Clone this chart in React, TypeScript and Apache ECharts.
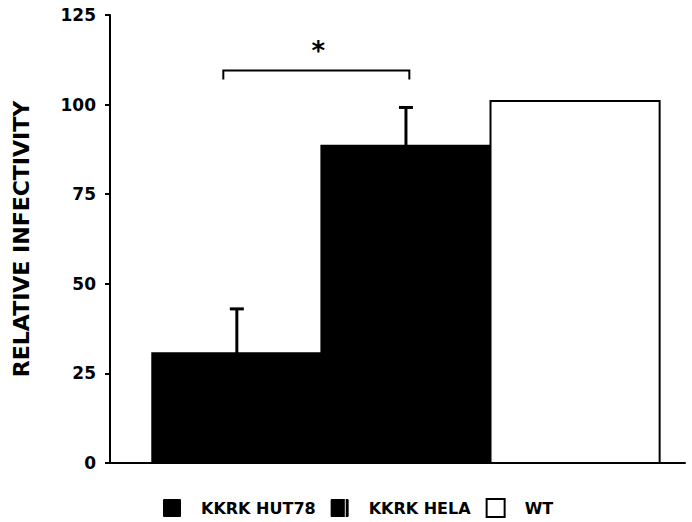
import React, { useEffect, useRef } from 'react';
import * as echarts from 'echarts';

const categories = ['KKRK HUT78', 'KKRK HELA', 'WT'];
const values = [30.6, 88.5, 101];
const errors = [12.4, 10.7, 0];
const yMin = 0;
const yMax = 125;
const yInterval = 25;
const yTitle = 'RELATIVE INFECTIVITY';
// significance bracket (in x-axis units) and its height
const bracketX = [0.67, 1.77];
const bracketY = 109.5;
const bracketDrop = 2.5;
const bracketLabel = '*';
const asteriskY = 115;

const FONT = '"DejaVu Sans", Verdana, sans-serif';
const BAR_OFFSET = 0.75; // center of first bar in axis units
const fills = ['#000000', '#000000', '#ffffff'];
const icons = [
  'path://M1,0H15Q16,0 16,1V15Q16,16 15,16H1Q0,16 0,15V1Q0,0 1,0Z',
  'path://M1,0H12.6V16H1Q0,16 0,15V1Q0,0 1,0Z M13.4,0H15Q16,0 16,1V15Q16,16 15,16H13.4Z',
  'rect',
];

export default function App() {
  const ref = useRef<HTMLDivElement>(null);
  useEffect(() => {
    document.body.style.margin = '0';
    if (!ref.current) return;
    const chart = echarts.init(ref.current, undefined, { renderer: 'svg' });

    const barSeries = categories.map((name, i) => ({
      name,
      type: 'custom',
      data: [[BAR_OFFSET + i, values[i]]],
      itemStyle: { color: fills[i], borderColor: '#000', borderWidth: 2 },
      renderItem: (params: any, api: any) => {
        const x = api.value(0);
        const y = api.value(1);
        const p1 = api.coord([x - 0.5, y]);
        const p2 = api.coord([x + 0.5, 0]);
        return {
          type: 'rect',
          shape: { x: p1[0], y: p1[1], width: p2[0] - p1[0], height: p2[1] - p1[1] },
          style: { fill: fills[i], stroke: '#000', lineWidth: 2 },
        };
      },
    }));

    const errorSeries = {
      type: 'custom',
      name: 'err',
      z: 3,
      data: values.map((v, i) => [BAR_OFFSET + i, v, errors[i]]).filter((d) => d[2] > 0),
      renderItem: (params: any, api: any) => {
        const x = api.value(0);
        const y = api.value(1);
        const e = api.value(2);
        const base = api.coord([x, y]);
        const top = api.coord([x, y + e]);
        return {
          type: 'group',
          children: [
            { type: 'line', shape: { x1: base[0], y1: base[1], x2: top[0], y2: top[1] }, style: { stroke: '#000', lineWidth: 3 } },
            { type: 'line', shape: { x1: top[0] - 7, y1: top[1], x2: top[0] + 7, y2: top[1] }, style: { stroke: '#000', lineWidth: 3 } },
          ],
        };
      },
    };

    const bracketSeries = {
      type: 'custom',
      name: 'sig',
      z: 3,
      data: [[bracketX[0], bracketX[1], bracketY]],
      renderItem: (params: any, api: any) => {
        const a = api.coord([api.value(0), api.value(2)]);
        const b = api.coord([api.value(1), api.value(2)]);
        const aDown = api.coord([api.value(0), api.value(2) - bracketDrop]);
        const bDown = api.coord([api.value(1), api.value(2) - bracketDrop]);
        const star = api.coord([(api.value(0) + api.value(1)) / 2, asteriskY]);
        return {
          type: 'group',
          children: [
            {
              type: 'polyline',
              shape: { points: [aDown, a, b, bDown] },
              style: { stroke: '#000', lineWidth: 2, fill: 'none' },
            },
            {
              type: 'text',
              x: star[0] + 2,
              y: star[1],
              style: {
                text: bracketLabel,
                fontSize: 26,
                fontWeight: 'bold',
                fontFamily: FONT,
                fill: '#000',
                align: 'center',
                verticalAlign: 'middle',
              },
            },
          ],
        };
      },
    };

    chart.setOption({
      animation: false,
      backgroundColor: '#fff',
      grid: { left: 110, right: 7, top: 15, bottom: 59 },
      xAxis: {
        type: 'value',
        min: 0,
        max: 3.4,
        axisLine: { show: true, lineStyle: { color: '#000', width: 2 } },
        axisTick: { show: false },
        axisLabel: { show: false },
        splitLine: { show: false },
      },
      yAxis: {
        type: 'value',
        min: yMin,
        max: yMax,
        interval: yInterval,
        name: yTitle,
        nameLocation: 'middle',
        nameGap: 78,
        nameTextStyle: { fontSize: 22, fontWeight: 'bold', fontFamily: FONT, color: '#000' },
        axisLine: { show: true, lineStyle: { color: '#000', width: 2 } },
        axisTick: { show: true, length: 5, lineStyle: { color: '#000', width: 2 } },
        axisLabel: { fontSize: 17, fontWeight: 'bold', fontFamily: FONT, color: '#000', margin: 14 },
        splitLine: { show: false },
      },
      legend: {
        left: 163,
        top: 498,
        padding: 0,
        itemWidth: 18,
        itemHeight: 18,
        itemGap: 15,
        selectedMode: false,
        textStyle: { fontSize: 16, fontWeight: 'bold', fontFamily: FONT, color: '#000', padding: [0, 0, 0, 15] },
        data: categories.map((name, i) => ({
          name,
          icon: icons[i],
          itemStyle: { color: fills[i], borderColor: '#000', borderWidth: i === 2 ? 2 : 0 },
        })),
      },
      series: [...barSeries, errorSeries, bracketSeries],
    });
    return () => chart.dispose();
  }, []);
  return <div ref={ref} style={{ width: 692, height: 522 }} />;
}
